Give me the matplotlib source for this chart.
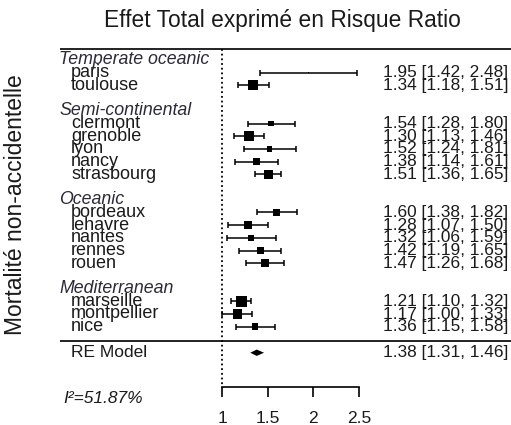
import matplotlib
matplotlib.use("Agg")
from matplotlib import pyplot as plt

plt.rcParams['font.family'] = ['Liberation Sans', 'DejaVu Sans']

# groupes climatiques et villes
groups = ["Temperate oceanic", "Semi-continental", "Oceanic", "Mediterranean"]
cities = [
    ["paris", "toulouse"],
    ["clermont", "grenoble", "lyon", "nancy", "strasbourg"],
    ["bordeaux", "lehavre", "nantes", "rennes", "rouen"],
    ["marseille", "montpellier", "nice"],
]
# risque ratio et IC 95%
rr = [1.95, 1.34, 1.54, 1.30, 1.52, 1.38, 1.51, 1.60, 1.28, 1.32, 1.42, 1.47, 1.21, 1.17, 1.36]
lo = [1.42, 1.18, 1.28, 1.13, 1.24, 1.14, 1.36, 1.38, 1.07, 1.06, 1.19, 1.26, 1.10, 1.00, 1.15]
hi = [2.48, 1.51, 1.80, 1.46, 1.81, 1.61, 1.65, 1.82, 1.50, 1.59, 1.65, 1.68, 1.32, 1.33, 1.58]
# poids (%) des villes dans le modele
weights = [1.3, 8.9, 5.1, 8.9, 5.1, 6.0, 8.3, 6.0, 7.1, 5.6, 6.5, 6.9, 10.1, 8.3, 6.0]
# modele a effets aleatoires
re_est, re_lo, re_hi = 1.38, 1.31, 1.46
i2 = 51.87
xticks = [1, 1.5, 2, 2.5]

W, H = 511, 425
fig = plt.figure(figsize=(W / 100, H / 100), dpi=100)
ax = fig.add_axes([0, 0, 1, 1])

# echelle : 1 -> 222 px, 2.5 -> 359 px ; une ligne = 12.7 px, ligne 0 a 60 px
upx = 1.5 / 137
ax.set_xlim(1 - 222 * upx, 1 + (W - 222) * upx)
row_px, row0 = 12.7, 60
ax.set_ylim((H - row0) / row_px, -row0 / row_px)

tr = ax.get_yaxis_transform()  # x en fraction, y en lignes
txt_col = '#1a1a1a'
fs_left = 13
fs_right = 12.4

# positions des lignes (en-tete de groupe puis villes, une ligne vide entre groupes)
rows = []
head_rows = []
r = 0
for g, cs in zip(groups, cities):
    head_rows.append(r)
    r += 1
    for c in cs:
        rows.append(r)
        r += 1
    r += 1

names = [c for cs in cities for c in cs]

for g, hr in zip(groups, head_rows):
    ax.text(59 / W, hr, g, transform=tr, style='italic', fontsize=12.8,
            color='#2a2a38', ha='left', va='center')

for name, y, e, l, h in zip(names, rows, rr, lo, hi):
    ax.text(71 / W, y, name, transform=tr, fontsize=fs_left, color=txt_col, ha='left', va='center')
    ax.text(383 / W, y, '%.2f [%.2f, %.2f]' % (e, l, h), transform=tr, fontsize=fs_right,
            color=txt_col, ha='left', va='center')

# intervalles de confiance et carres
ax.errorbar(rr, rows, xerr=[[e - l for e, l in zip(rr, lo)], [h - e for e, h in zip(rr, hi)]],
            fmt='none', ecolor='black', elinewidth=1.1, capsize=2, capthick=1.1)
sizes = [(w * 1.12 * 0.72) ** 2 for w in weights]
ax.scatter(rr, rows, s=sizes, marker='s', c='black', linewidths=0, zorder=3)

# separateurs
top_y = -0.9
bot_y = rows[-1] + 1.1
x_left = 1 - (222 - 60) * upx
ax.hlines([top_y, bot_y], x_left, ax.get_xlim()[1], color='#222222', lw=1.4)

# modele RE
re_y = bot_y + 0.95
ax.fill([re_lo, re_est, re_hi, re_est], [re_y, re_y - 0.25, re_y, re_y + 0.25], color='black', lw=0)
ax.text(71 / W, re_y, 'RE Model', transform=tr, fontsize=12.5, color=txt_col, ha='left', va='center')
ax.text(383 / W, re_y, '%.2f [%.2f, %.2f]' % (re_est, re_lo, re_hi), transform=tr,
        fontsize=fs_right, color=txt_col, ha='left', va='center')

# axe des x
axis_y = (387 - row0) / row_px
ax.vlines(1, top_y, axis_y - 0.15, colors='black', linestyles=(0, (1, 1.6)), lw=1.3)
ax.text(63 / W, axis_y + 0.9, 'I\u00b2=%.2f%%' % i2, transform=tr, style='italic',
        fontsize=12.5, color=txt_col, ha='left', va='center')

for s in ['top', 'left', 'right']:
    ax.spines[s].set_visible(False)
ax.spines['bottom'].set_position(('data', axis_y))
ax.spines['bottom'].set_bounds(xticks[0], xticks[-1])
ax.spines['bottom'].set_linewidth(1.2)
ax.set_xticks(xticks)
ax.set_xticklabels(['%g' % t for t in xticks], fontsize=12.5, color=txt_col)
ax.tick_params(axis='x', direction='out', length=7.2, width=1.2, pad=10)
ax.set_yticks([])

fig.text(282 / W, 1 - 20 / H, 'Effet Total exprimé en Risque Ratio', fontsize=16.4,
         color=txt_col, ha='center', va='center')
fig.text(16 / W, 1 - 205 / H, 'Mortalité non-accidentelle', fontsize=16.5, rotation=90,
         color=txt_col, ha='center', va='center')

fig.savefig('out.png', dpi=100)
